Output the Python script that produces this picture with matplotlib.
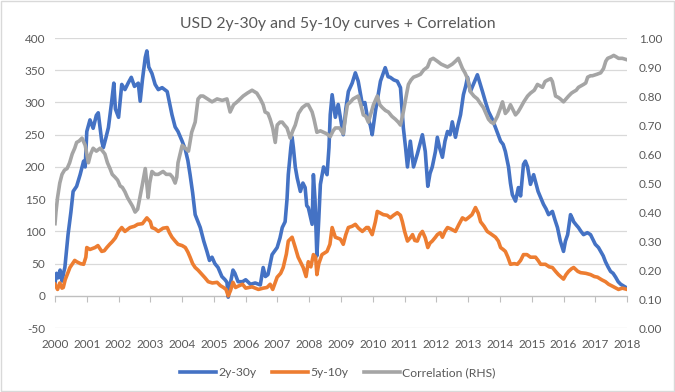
import matplotlib
matplotlib.use("Agg")
import matplotlib.pyplot as plt

plt.rcParams['font.family'] = ['Lato', 'DejaVu Sans']

title = "USD 2y-30y and 5y-10y curves + Correlation"
year_ticks = list(range(2000, 2019))
left_ticks = [-50, 0, 50, 100, 150, 200, 250, 300, 350, 400]
right_ticks = [0.0, 0.1, 0.2, 0.3, 0.4, 0.5, 0.6, 0.7, 0.8, 0.9, 1.0]

t_2s30s = [2000.00, 2000.05, 2000.10, 2000.16, 2000.22, 2000.28, 2000.31, 2000.36, 2000.41, 2000.50,
           2000.57, 2000.68, 2000.79, 2000.90, 2000.95, 2001.00, 2001.10, 2001.20, 2001.30, 2001.36,
           2001.42, 2001.47, 2001.52, 2001.60, 2001.68, 2001.78, 2001.85, 2001.90, 2002.00, 2002.10,
           2002.20, 2002.30, 2002.40, 2002.50, 2002.62, 2002.68, 2002.75, 2002.84, 2002.89, 2002.95,
           2003.05, 2003.15, 2003.25, 2003.37, 2003.53, 2003.60, 2003.68, 2003.78, 2003.87, 2004.00,
           2004.10, 2004.18, 2004.25, 2004.33, 2004.41, 2004.50, 2004.57, 2004.68, 2004.78, 2004.86,
           2004.94, 2005.03, 2005.13, 2005.25, 2005.35, 2005.41, 2005.45, 2005.52, 2005.60, 2005.66,
           2005.76, 2005.90, 2006.00, 2006.15, 2006.30, 2006.46, 2006.55, 2006.62, 2006.70, 2006.83,
           2006.99, 2007.08, 2007.15, 2007.24, 2007.30, 2007.34, 2007.42, 2007.46, 2007.50, 2007.56,
           2007.62, 2007.72, 2007.80, 2007.87, 2007.92, 2007.97, 2008.05, 2008.09, 2008.13, 2008.18,
           2008.24, 2008.30, 2008.35, 2008.45, 2008.56, 2008.62, 2008.66, 2008.72, 2008.82, 2008.91,
           2009.00, 2009.07, 2009.15, 2009.23, 2009.35, 2009.45, 2009.54, 2009.67, 2009.75, 2009.83,
           2009.92, 2009.98, 2010.08, 2010.16, 2010.24, 2010.39, 2010.48, 2010.55, 2010.66, 2010.77,
           2010.87, 2010.96, 2011.03, 2011.09, 2011.18, 2011.28, 2011.40, 2011.48, 2011.56, 2011.65,
           2011.73, 2011.80, 2011.87, 2011.97, 2012.03, 2012.10, 2012.19, 2012.27, 2012.35, 2012.43,
           2012.50, 2012.60, 2012.68, 2012.76, 2012.85, 2012.92, 2012.98, 2013.07, 2013.18, 2013.29,
           2013.37, 2013.45, 2013.55, 2013.64, 2013.75, 2013.86, 2014.02, 2014.10, 2014.17, 2014.27,
           2014.33, 2014.39, 2014.49, 2014.58, 2014.65, 2014.74, 2014.80, 2014.87, 2014.96, 2015.06,
           2015.20, 2015.37, 2015.45, 2015.53, 2015.65, 2015.73, 2015.81, 2015.90, 2016.00, 2016.06,
           2016.13, 2016.22, 2016.28, 2016.32, 2016.40, 2016.47, 2016.55, 2016.63, 2016.75, 2016.85,
           2016.92, 2017.00, 2017.10, 2017.17, 2017.25, 2017.32, 2017.40, 2017.48, 2017.56, 2017.64,
           2017.72, 2017.80, 2017.90, 2018.00]
v_2s30s = [20, 35, 28, 40, 23, 38, 44, 70, 95, 130,
           162, 170, 188, 209, 200, 255, 273, 260, 280, 284,
           260, 240, 230, 245, 261, 300, 330, 290, 277, 328,
           320, 330, 339, 325, 330, 302, 335, 370, 380, 355,
           345, 328, 320, 323, 317, 300, 281, 262, 255, 240,
           227, 210, 188, 160, 126, 115, 106, 85, 69, 55,
           60, 50, 44, 30, 25, 21, -2, 20, 40, 35,
           22, 22, 25, 18, 20, 17, 44, 30, 33, 64,
           75, 90, 106, 115, 150, 188, 230, 246, 230, 200,
           183, 162, 175, 168, 140, 137, 120, 111, 188, 150,
           62, 120, 173, 200, 188, 230, 281, 312, 277, 297,
           270, 250, 290, 317, 330, 346, 333, 297, 300, 277,
           265, 250, 286, 310, 333, 354, 340, 339, 335, 333,
           323, 261, 230, 200, 240, 200, 220, 235, 250, 224,
           170, 190, 200, 224, 246, 230, 215, 240, 255, 250,
           270, 246, 265, 281, 312, 325, 339, 317, 330, 343,
           330, 317, 300, 286, 275, 261, 240, 235, 224, 200,
           175, 157, 147, 168, 155, 204, 209, 200, 173, 188,
           162, 142, 135, 126, 131, 118, 106, 85, 69, 85,
           95, 126, 120, 115, 110, 106, 100, 95, 98, 95,
           88, 80, 75, 69, 62, 53, 45, 38, 35, 29,
           22, 18, 15, 12]

t_5s10s = [2000.00, 2000.08, 2000.15, 2000.22, 2000.26, 2000.32, 2000.40, 2000.47, 2000.55, 2000.62,
           2000.68, 2000.80, 2000.90, 2000.97, 2001.00, 2001.10, 2001.26, 2001.35, 2001.47, 2001.55,
           2001.63, 2001.72, 2001.80, 2001.90, 2002.00, 2002.10, 2002.20, 2002.36, 2002.50, 2002.60,
           2002.75, 2002.89, 2003.00, 2003.05, 2003.15, 2003.25, 2003.40, 2003.53, 2003.60, 2003.68,
           2003.78, 2003.87, 2004.00, 2004.10, 2004.18, 2004.25, 2004.33, 2004.41, 2004.50, 2004.63,
           2004.72, 2004.82, 2004.95, 2005.10, 2005.20, 2005.30, 2005.38, 2005.45, 2005.52, 2005.60,
           2005.68, 2005.76, 2005.90, 2006.00, 2006.20, 2006.40, 2006.55, 2006.67, 2006.77, 2006.85,
           2006.99, 2007.10, 2007.18, 2007.28, 2007.34, 2007.46, 2007.56, 2007.65, 2007.72, 2007.81,
           2007.90, 2007.97, 2008.05, 2008.13, 2008.20, 2008.24, 2008.30, 2008.40, 2008.56, 2008.65,
           2008.72, 2008.82, 2008.98, 2009.07, 2009.15, 2009.23, 2009.35, 2009.45, 2009.55, 2009.67,
           2009.80, 2009.86, 2009.98, 2010.08, 2010.14, 2010.25, 2010.33, 2010.45, 2010.55, 2010.65,
           2010.77, 2010.87, 2010.93, 2011.00, 2011.09, 2011.18, 2011.25, 2011.32, 2011.40, 2011.48,
           2011.56, 2011.65, 2011.73, 2011.80, 2011.87, 2011.97, 2012.03, 2012.12, 2012.19, 2012.27,
           2012.35, 2012.45, 2012.60, 2012.70, 2012.82, 2012.92, 2013.00, 2013.12, 2013.23, 2013.32,
           2013.39, 2013.50, 2013.60, 2013.72, 2013.86, 2013.95, 2014.02, 2014.10, 2014.17, 2014.25,
           2014.33, 2014.45, 2014.55, 2014.65, 2014.74, 2014.85, 2014.96, 2015.12, 2015.20, 2015.28,
           2015.43, 2015.55, 2015.65, 2015.75, 2015.84, 2016.00, 2016.08, 2016.16, 2016.25, 2016.32,
           2016.45, 2016.54, 2016.70, 2016.85, 2016.97, 2017.07, 2017.20, 2017.32, 2017.42, 2017.54,
           2017.65, 2017.73, 2017.85, 2018.00]
v_5s10s = [18, 10, 20, 12, 13, 25, 35, 44, 50, 55,
           53, 50, 49, 60, 75, 72, 75, 78, 69, 70,
           75, 80, 84, 90, 100, 106, 100, 106, 108, 111,
           112, 121, 115, 106, 104, 100, 105, 106, 98, 91,
           85, 80, 78, 75, 68, 60, 50, 44, 40, 33,
           28, 22, 20, 21, 16, 13, 10, 0, 8, 21,
           13, 15, 18, 12, 14, 10, 12, 13, 18, 10,
           29, 35, 44, 65, 85, 91, 75, 60, 53, 44,
           30, 53, 45, 64, 60, 33, 50, 64, 69, 80,
           106, 91, 88, 80, 95, 106, 108, 111, 105, 100,
           106, 106, 95, 115, 131, 128, 126, 125, 121, 125,
           129, 125, 115, 100, 85, 90, 95, 86, 85, 95,
           100, 90, 75, 82, 85, 91, 95, 98, 91, 100,
           106, 104, 100, 110, 121, 118, 121, 126, 137, 128,
           115, 108, 100, 96, 91, 85, 75, 72, 69, 60,
           49, 50, 49, 55, 64, 64, 60, 60, 55, 49,
           49, 45, 44, 38, 33, 26, 33, 38, 42, 44,
           38, 36, 35, 33, 30, 29, 25, 22, 18, 15,
           12, 10, 12, 10]

t_corr = [2000.00, 2000.03, 2000.08, 2000.15, 2000.22, 2000.30, 2000.38, 2000.46, 2000.54, 2000.62,
          2000.68, 2000.76, 2000.85, 2000.95, 2001.05, 2001.12, 2001.20, 2001.30, 2001.42, 2001.50,
          2001.57, 2001.65, 2001.73, 2001.80, 2001.89, 2001.97, 2002.05, 2002.12, 2002.20, 2002.28,
          2002.36, 2002.44, 2002.52, 2002.60, 2002.67, 2002.74, 2002.84, 2002.93, 2002.98, 2003.05,
          2003.15, 2003.25, 2003.40, 2003.50, 2003.62, 2003.70, 2003.78, 2003.83, 2003.87, 2004.00,
          2004.10, 2004.20, 2004.30, 2004.41, 2004.50, 2004.58, 2004.66, 2004.80, 2004.94, 2005.10,
          2005.26, 2005.41, 2005.51, 2005.62, 2005.73, 2005.92, 2006.05, 2006.20, 2006.35, 2006.46,
          2006.55, 2006.61, 2006.70, 2006.77, 2006.85, 2006.93, 2006.99, 2007.08, 2007.15, 2007.22,
          2007.30, 2007.40, 2007.48, 2007.56, 2007.66, 2007.78, 2007.90, 2007.97, 2008.09, 2008.15,
          2008.24, 2008.35, 2008.45, 2008.55, 2008.66, 2008.75, 2008.82, 2008.95, 2009.07, 2009.13,
          2009.20, 2009.30, 2009.38, 2009.54, 2009.62, 2009.70, 2009.78, 2009.86, 2009.94, 2010.02,
          2010.14, 2010.22, 2010.30, 2010.40, 2010.49, 2010.60, 2010.71, 2010.80, 2010.87, 2010.96,
          2011.05, 2011.12, 2011.20, 2011.28, 2011.40, 2011.50, 2011.60, 2011.72, 2011.81, 2011.90,
          2012.03, 2012.15, 2012.25, 2012.35, 2012.50, 2012.60, 2012.69, 2012.82, 2012.90, 2012.98,
          2013.07, 2013.18, 2013.29, 2013.38, 2013.48, 2013.56, 2013.64, 2013.72, 2013.80, 2013.92,
          2014.02, 2014.08, 2014.17, 2014.25, 2014.33, 2014.42, 2014.49, 2014.57, 2014.65, 2014.75,
          2014.87, 2014.96, 2015.08, 2015.18, 2015.26, 2015.34, 2015.42, 2015.50, 2015.60, 2015.65,
          2015.75, 2015.84, 2015.90, 2016.00, 2016.08, 2016.16, 2016.25, 2016.32, 2016.40, 2016.47,
          2016.55, 2016.63, 2016.70, 2016.76, 2016.85, 2016.91, 2017.05, 2017.17, 2017.26, 2017.33,
          2017.39, 2017.50, 2017.58, 2017.66, 2017.73, 2017.85, 2018.00]
v_corr = [0.36, 0.40, 0.45, 0.50, 0.53, 0.545, 0.55, 0.57, 0.60, 0.62,
          0.64, 0.645, 0.655, 0.63, 0.57, 0.60, 0.62, 0.61, 0.62, 0.61,
          0.60, 0.57, 0.55, 0.53, 0.52, 0.51, 0.49, 0.485, 0.47, 0.45,
          0.435, 0.42, 0.40, 0.41, 0.45, 0.49, 0.55, 0.45, 0.50, 0.54,
          0.53, 0.53, 0.54, 0.53, 0.53, 0.52, 0.50, 0.52, 0.57, 0.63,
          0.62, 0.61, 0.675, 0.71, 0.79, 0.80, 0.80, 0.79, 0.78, 0.79,
          0.785, 0.79, 0.745, 0.77, 0.78, 0.80, 0.81, 0.82, 0.81, 0.79,
          0.77, 0.745, 0.74, 0.72, 0.69, 0.64, 0.70, 0.71, 0.71, 0.70,
          0.69, 0.655, 0.68, 0.70, 0.74, 0.76, 0.77, 0.77, 0.745, 0.72,
          0.675, 0.68, 0.675, 0.67, 0.66, 0.68, 0.69, 0.69, 0.67, 0.72,
          0.77, 0.78, 0.79, 0.80, 0.77, 0.735, 0.73, 0.71, 0.74, 0.77,
          0.80, 0.77, 0.76, 0.75, 0.745, 0.73, 0.72, 0.71, 0.70, 0.745,
          0.80, 0.84, 0.855, 0.865, 0.87, 0.875, 0.89, 0.90, 0.925, 0.93,
          0.92, 0.91, 0.905, 0.90, 0.91, 0.92, 0.93, 0.895, 0.88, 0.86,
          0.815, 0.80, 0.79, 0.775, 0.76, 0.74, 0.72, 0.71, 0.705, 0.73,
          0.76, 0.78, 0.74, 0.75, 0.77, 0.75, 0.735, 0.745, 0.76, 0.78,
          0.80, 0.81, 0.82, 0.84, 0.835, 0.83, 0.85, 0.855, 0.86, 0.85,
          0.80, 0.795, 0.79, 0.78, 0.79, 0.80, 0.81, 0.815, 0.82, 0.83,
          0.835, 0.84, 0.845, 0.865, 0.87, 0.87, 0.875, 0.88, 0.895, 0.92,
          0.93, 0.935, 0.94, 0.935, 0.93, 0.93, 0.925]

BLUE = "#4472C4"
ORANGE = "#ED7D31"
GRAY = "#A5A5A5"
TXT = "#595959"
GRID = "#D9D9D9"

fig = plt.figure(figsize=(6.75, 3.92), dpi=100)
fig.patch.set_facecolor("white")
ax = fig.add_axes([0.0815, 0.163, 0.8475, 0.740])
ax2 = ax.twinx()

l1, = ax.plot(t_2s30s, v_2s30s, color=BLUE, lw=2.6, solid_joinstyle="round", label="2y-30y", zorder=3)
l2, = ax.plot(t_5s10s, v_5s10s, color=ORANGE, lw=2.6, solid_joinstyle="round", label="5y-10y", zorder=4)
l3, = ax2.plot(t_corr, v_corr, color=GRAY, lw=2.6, solid_joinstyle="round", label="Correlation (RHS)", zorder=3)

ax.set_xlim(2000, 2018)
ax.set_ylim(-50, 400)
ax2.set_ylim(0, 1)
ax.set_yticks(left_ticks)
ax.set_yticklabels([str(v) for v in left_ticks])
ax2.set_yticks(right_ticks)
ax2.set_yticklabels([f"{v:.2f}" for v in right_ticks])

for a in (ax, ax2):
    for s in a.spines.values():
        s.set_visible(False)

ax.grid(axis="y", color=GRID, lw=0.9)
ax.set_axisbelow(True)
ax.tick_params(axis="y", length=0, labelsize=8.5, labelcolor=TXT, pad=7)
ax2.tick_params(axis="y", length=0, labelsize=8.5, labelcolor=TXT, pad=8.5)

# category axis crossing at zero
ax.spines["bottom"].set_visible(True)
ax.spines["bottom"].set_position(("data", 0))
ax.spines["bottom"].set_color("#BFBFBF")
ax.spines["bottom"].set_linewidth(0.9)
ax.set_xticks(year_ticks)
ax.tick_params(axis="x", direction="out", length=4, color="#BFBFBF", labelbottom=False)
sec = ax.secondary_xaxis("bottom")
sec.set_xticks(year_ticks)
sec.set_xticklabels([str(y) for y in year_ticks])
sec.tick_params(axis="x", length=0, labelsize=8.5, labelcolor=TXT, pad=8)
for s in sec.spines.values():
    s.set_visible(False)

fig.suptitle(title, x=0.5, y=0.957, fontsize=11.4, color=TXT)

fig.legend(handles=[l1, l2, l3], loc="center", bbox_to_anchor=(0.5, 0.05), ncol=3,
           frameon=False, fontsize=8.7, labelcolor=TXT, handlelength=3.0,
           handletextpad=0.15, columnspacing=1.3)

border = plt.Rectangle((0.0015, 0.0025), 0.997, 0.995, transform=fig.transFigure,
                       fill=False, edgecolor="#D9D9D9", lw=1.0)
fig.add_artist(border)

fig.savefig("out.png", dpi=100)
